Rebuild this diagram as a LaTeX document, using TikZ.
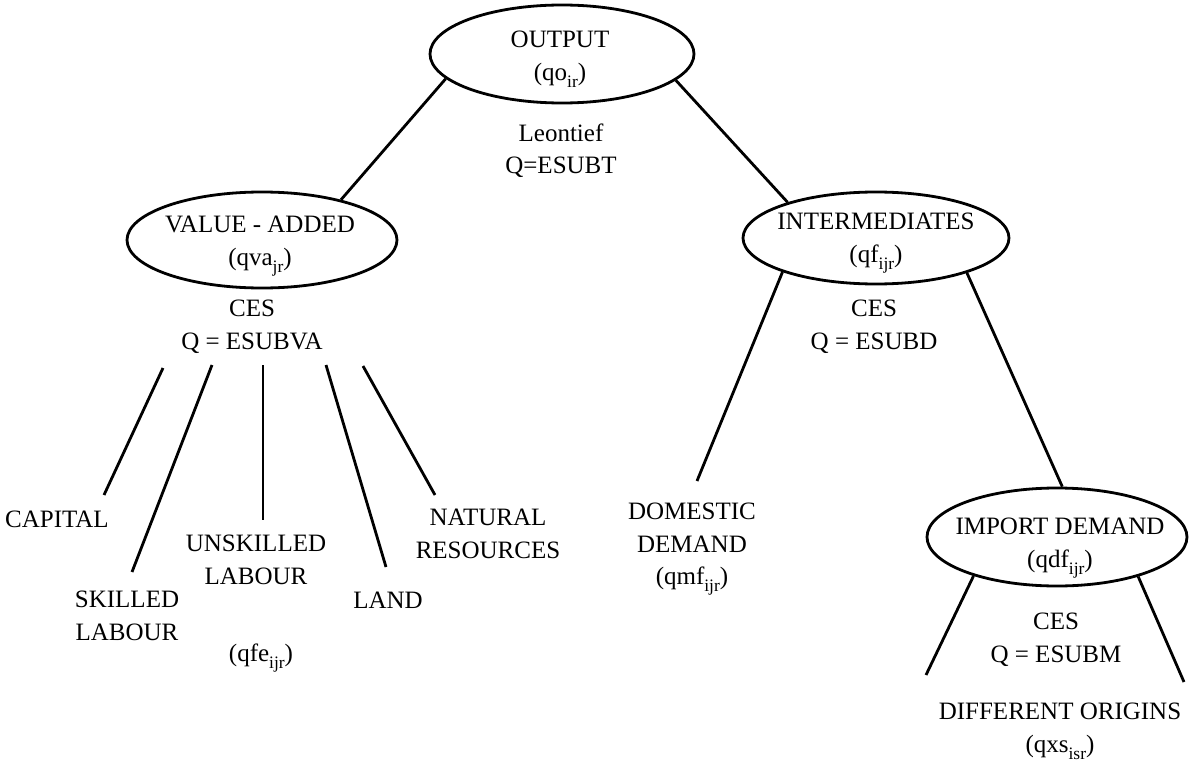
\documentclass[tikz,border=0pt]{standalone}
\usepackage{fontspec}
\setmainfont{Liberation Serif}
\usetikzlibrary{shapes.geometric}
\newcommand\dfont{\fontsize{25}{32.5}\selectfont}
\newcommand\hstrut{\rule{0pt}{18pt}}
\newcommand\subx[1]{\raisebox{-7pt}{\fontsize{17.5}{17.5}\selectfont #1}}
\begin{document}
\begin{tikzpicture}[x=1pt,y=-1pt,line width=2.8pt,
  ell/.style={draw,ellipse,inner sep=0pt},
  lbl/.style={align=center,inner sep=0pt,anchor=north,font=\dfont,execute at begin node=\hstrut}]
\useasboundingbox (0,0) rectangle (1197,765);
% ellipses
\node[ell,minimum width=264,minimum height=98] (out) at (562,54) {};
\node[ell,minimum width=270,minimum height=96] (va) at (262,240) {};
\node[ell,minimum width=266,minimum height=92] (int) at (876,238) {};
\node[ell,minimum width=260,minimum height=98] (imp) at (1057,537) {};
% ellipse texts
\node[lbl] (outT) at (560,30) {OUTPUT\\(qo\subx{ir})};
\node[lbl] (vaT) at (260,215) {VALUE - ADDED\\(qva\subx{jr})};
\node[lbl] (intT) at (876,212) {INTERMEDIATES\\(qf\subx{ijr})};
\node[lbl] (impT) at (1060,517) {IMPORT DEMAND\\(qdf\subx{ijr})};
% function labels
\node[lbl] (leo) at (561,122) {Leontief\\Q=ESUBT};
\node[lbl] (cesva) at (252,299) {CES\\Q = ESUBVA};
\node[lbl] (cesd) at (874,299) {CES\\Q = ESUBD};
\node[lbl] (cesm) at (1056,612) {CES\\Q = ESUBM};
% leaves
\node[lbl] (cap) at (57,508) {CAPITAL};
\node[lbl] (skl) at (127,590) {SKILLED\\LABOUR};
\node[lbl] (unskl) at (256,534) {UNSKILLED\\LABOUR};
\node[lbl] (qfe) at (261,642) {(qfe\subx{ijr})};
\node[lbl] (land) at (388,589) {LAND};
\node[lbl] (nat) at (488,508) {NATURAL\\RESOURCES};
\node[lbl] (dom) at (692,502) {DOMESTIC\\DEMAND\\(qmf\subx{ijr})};
\node[lbl] (orig) at (1060,702) {DIFFERENT ORIGINS\\(qxs\subx{isr})};
% connectors between ellipses
\draw (out.192.5) -- (va.27);
\draw (out.347.5) -- (int.158);
\coordinate (domtop) at (697,481);
\draw (int.200.6) -- (domtop);
\draw (int.339.3) -- (imp.84);
\coordinate (ol) at (926,675);
\coordinate (or) at (1184,682);
\draw (imp.205.7) -- (ol);
\draw (imp.334.8) -- (or);
% value-added fan
\coordinate (a1) at (163,368); \coordinate (b1) at (104,495);
\coordinate (a2) at (212,365); \coordinate (b2) at (132,572);
\coordinate (a3) at (263,365); \coordinate (b3) at (263,520);
\coordinate (a4) at (326,365); \coordinate (b4) at (386,567);
\coordinate (a5) at (363,366); \coordinate (b5) at (435,495);
\draw (a1) -- (b1);
\draw (a2) -- (b2);
\draw (a3) -- (b3);
\draw (a4) -- (b4);
\draw (a5) -- (b5);
\end{tikzpicture}
\end{document}
